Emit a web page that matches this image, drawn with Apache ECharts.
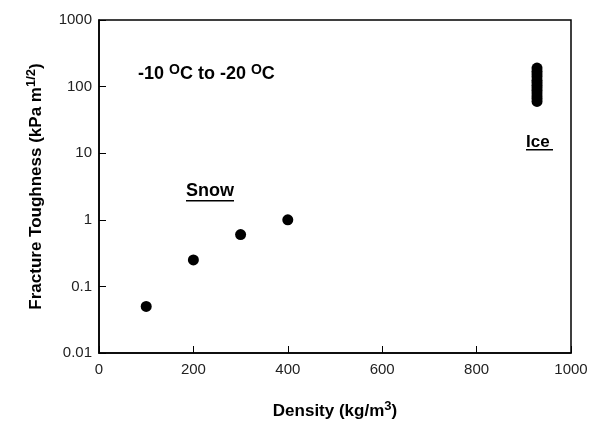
<!DOCTYPE html>
<html>
<head>
<meta charset="UTF-8">
<title></title>
<script src="https://cdn.jsdelivr.net/npm/echarts@6/dist/echarts.min.js"></script>
</head>
<body style="margin:0">
<div id="main" style="width:605px;height:422px;"></div>
<script type="text/javascript">
// data
var snowDensity = [100, 200, 300, 400];
var snowToughness = [0.05, 0.25, 0.6, 1.0];
var iceDensity = 928;
var iceToughness = [60, 66, 72, 80, 88, 96, 105, 115, 125, 140, 155, 170, 190];
var xTicks = [0, 200, 400, 600, 800, 1000];
var yTicks = [0.01, 0.1, 1, 10, 100, 1000];

var snowData = snowDensity.map(function (d, i) { return [d, snowToughness[i]]; });
var iceData = iceToughness.map(function (v) { return [iceDensity, v]; });

var font = 'Liberation Sans, Arial, sans-serif';
var nameRich = {
    a: { fontFamily: font, fontWeight: 'bold', fontSize: 17, color: '#000' },
    s: { fontFamily: font, fontWeight: 'bold', fontSize: 13, color: '#000', verticalAlign: 'bottom', padding: [0, 0, 9, 0] }
};
var myChart = echarts.init(document.getElementById('main'));
myChart.setOption({
    animation: false,
    backgroundColor: '#fff',
    grid: {
        left: 99, right: 34, top: 20, bottom: 69, outerBoundsMode: 'none', containLabel: false,
        show: true, borderColor: '#000', borderWidth: 1.5
    },
    xAxis: {
        type: 'value', min: 0, max: 1000, interval: 200,
        name: '{a|Density (kg/m}{s|3}{a|)}',
        nameLocation: 'middle', nameGap: 47,
        nameTextStyle: { rich: nameRich },
        axisLine: { lineStyle: { color: '#000', width: 1.5 } },
        axisTick: { inside: true, length: 7, lineStyle: { color: '#000' } },
        axisLabel: {
            fontFamily: font, fontSize: 15, color: '#222', margin: 9,
            formatter: function (v) { return String(v); }
        },
        splitLine: { show: false }
    },
    yAxis: {
        type: 'log', logBase: 10, min: 0.01, max: 1000,
        name: '{a|Fracture Toughness (kPa m}{s|1/2}{a|)}',
        nameLocation: 'middle', nameGap: 52,
        nameTextStyle: { rich: nameRich },
        axisLine: { lineStyle: { color: '#000', width: 1.5 } },
        axisTick: { inside: true, length: 7, lineStyle: { color: '#000' } },
        axisLabel: {
            fontFamily: font, fontSize: 15, color: '#222', margin: 7,
            formatter: function (v) {
                for (var i = 0; i < yTicks.length; i++) {
                    if (Math.abs(v - yTicks[i]) / yTicks[i] < 1e-6) return String(yTicks[i]);
                }
                return '';
            }
        },
        splitLine: { show: false }
    },
    series: [
        {
            name: 'Snow', type: 'scatter', data: snowData,
            symbolSize: 11, itemStyle: { color: '#000', opacity: 1 }
        },
        {
            name: 'Ice', type: 'scatter', data: iceData,
            symbolSize: 11, itemStyle: { color: '#000', opacity: 1 }
        }
    ],
    graphic: [
        {
            type: 'text', left: 138, top: 63,
            style: {
                text: '{a|-10 }{s|O}{a|C to -20 }{s|O}{a|C}',
                rich: {
                    a: { fontFamily: font, fontWeight: 'bold', fontSize: 18, fill: '#000' },
                    s: { fontFamily: font, fontWeight: 'bold', fontSize: 14, fill: '#000', verticalAlign: 'bottom', padding: [0, 0, 9, 0] }
                }
            }
        },
        {
            type: 'text', left: 186, top: 182,
            style: { text: 'Snow', fontFamily: font, fontWeight: 'bold', fontSize: 18, fill: '#000' }
        },
        { type: 'rect', shape: { x: 186, y: 200, width: 48, height: 1.5 }, style: { fill: '#000' } },
        {
            type: 'text', left: 526, top: 134,
            style: { text: 'Ice', fontFamily: font, fontWeight: 'bold', fontSize: 17, fill: '#000' }
        },
        { type: 'rect', shape: { x: 526, y: 149, width: 27, height: 1.5 }, style: { fill: '#000' } }
    ]
});
</script>
</body>
</html>
